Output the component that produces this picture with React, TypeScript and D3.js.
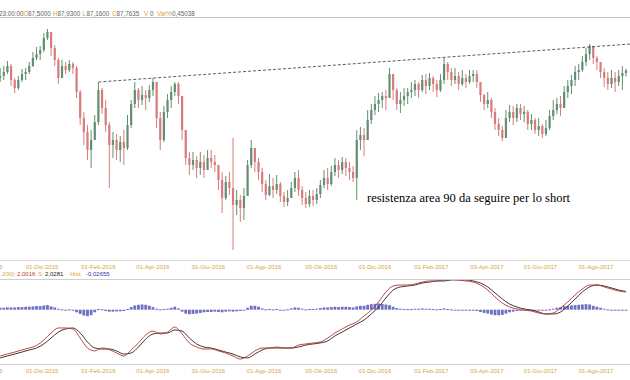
import React from 'react';
import * as d3 from 'd3';

const W = 630;
const H = 380;

// ---- price data (4-day bars starting 16 Oct 2015) ----
const barStart = new Date(2015, 9, 16);
const barStepDays = 4;
const firstOpen = 87.0;

const closes = [
  87.2, 87.6, 88.2, 86.8, 86.0, 86.8, 87.4, 87.6, 88.2, 89.0,
  89.4, 89.8, 91.0, 91.6, 90.0, 88.8, 87.0, 88.2, 87.8, 88.4,
  88.0, 85.6, 83.0, 81.6, 79.8, 80.8, 82.6, 85.8, 84.0, 82.3,
  80.3, 80.8, 79.8, 80.6, 80.0, 82.3, 84.4, 85.8, 84.8, 85.3,
  85.0, 85.8, 86.6, 83.0, 80.8, 83.6, 84.8, 85.6, 86.4, 85.2,
  81.8, 79.0, 78.3, 78.8, 78.0, 78.6, 77.8, 79.0, 78.6, 78.3,
  76.8, 75.0, 76.6, 76.0, 74.3, 74.8, 74.0, 75.2, 78.3, 80.0,
  78.6, 77.6, 76.4, 75.3, 76.2, 75.8, 76.4, 75.2, 74.6, 75.0,
  76.0, 77.0, 75.8, 75.0, 74.4, 75.2, 74.8, 75.4, 76.3, 77.0,
  76.4, 77.6, 78.3, 77.8, 78.6, 78.0, 77.6, 77.0, 80.8, 81.3,
  80.8, 82.8, 83.8, 84.4, 84.8, 85.2, 85.0, 87.4, 85.8, 84.4,
  84.8, 85.2, 85.6, 85.8, 86.4, 85.8, 86.8, 86.2, 87.0, 86.4,
  85.8, 86.8, 88.4, 87.6, 86.8, 87.2, 86.4, 87.0, 86.6, 87.2,
  87.4, 86.6, 85.3, 84.4, 84.8, 83.6, 82.4, 81.8, 81.0, 83.0,
  83.6, 83.0, 84.0, 83.4, 83.6, 82.4, 82.8, 81.8, 82.2, 81.4,
  82.0, 83.2, 83.8, 84.4, 84.0, 85.6, 86.2, 86.8, 87.6, 87.8,
  88.6, 89.4, 90.2, 89.0, 88.6, 87.6, 87.0, 86.4, 87.0, 86.6,
  87.2, 87.5, 87.7635,
];

const highs = [
  88.0, 88.2, 88.7, 88.4, 87.0, 87.2, 87.9, 88.0, 88.6, 89.6,
  90.1, 90.2, 91.5, 91.9, 91.2, 90.3, 89.0, 88.8, 88.6, 88.8,
  88.6, 88.2, 85.8, 83.6, 82.3, 81.8, 83.3, 86.6, 86.0, 84.8,
  82.6, 81.6, 81.4, 81.2, 81.8, 83.3, 84.8, 86.6, 86.0, 86.2,
  85.8, 86.3, 87.0, 86.4, 83.6, 84.2, 85.4, 86.2, 86.6, 86.6,
  85.2, 81.8, 79.6, 79.6, 79.2, 79.6, 79.3, 79.8, 79.8, 79.3,
  78.3, 77.6, 77.2, 77.6, 81.0, 75.8, 75.3, 76.0, 78.8, 80.8,
  79.8, 79.0, 78.0, 76.8, 77.4, 77.0, 77.3, 76.6, 75.6, 75.8,
  76.6, 77.6, 77.8, 76.2, 75.6, 75.8, 75.8, 76.0, 76.8, 77.8,
  78.0, 78.2, 79.0, 78.8, 79.1, 79.0, 78.6, 78.2, 81.8, 82.1,
  82.0, 83.8, 84.4, 85.2, 85.5, 85.6, 85.8, 88.0, 87.2, 86.0,
  85.6, 86.0, 86.0, 86.6, 86.8, 86.6, 87.3, 87.4, 87.5, 87.2,
  86.8, 87.4, 89.0, 88.6, 88.0, 88.0, 87.6, 87.8, 87.4, 87.8,
  87.8, 87.8, 86.6, 85.4, 85.6, 85.0, 84.0, 83.0, 82.2, 83.8,
  84.3, 84.2, 84.4, 84.4, 84.2, 83.8, 83.4, 83.0, 83.0, 82.4,
  82.8, 83.8, 84.8, 85.0, 85.2, 86.2, 86.8, 87.3, 88.2, 88.4,
  89.2, 90.0, 90.4, 90.0, 89.2, 88.6, 88.0, 87.6, 87.8, 87.6,
  87.8, 88.2, 87.93,
];

const lows = [
  86.6, 86.8, 87.4, 86.2, 85.5, 85.8, 86.6, 86.8, 87.4, 88.1,
  88.8, 88.8, 89.6, 90.8, 89.2, 88.2, 86.4, 87.2, 87.4, 87.6,
  87.4, 85.0, 82.3, 80.3, 78.8, 78.0, 81.0, 82.3, 83.4, 81.6,
  76.0, 79.0, 78.8, 78.6, 78.3, 79.8, 82.0, 84.0, 84.0, 84.3,
  83.8, 84.6, 85.2, 82.0, 79.8, 80.6, 83.0, 84.0, 85.2, 84.4,
  80.8, 78.3, 77.3, 77.8, 77.0, 77.3, 77.0, 77.8, 78.0, 77.6,
  75.8, 73.5, 74.8, 75.3, 69.8, 73.3, 72.6, 72.8, 75.3, 78.0,
  77.6, 76.8, 75.6, 74.8, 75.2, 75.0, 75.4, 74.6, 74.1, 74.2,
  75.0, 75.6, 75.2, 74.3, 74.0, 74.1, 74.2, 74.4, 75.0, 76.0,
  75.8, 76.2, 77.2, 77.0, 77.4, 77.2, 76.8, 76.6, 74.8, 79.8,
  79.2, 81.6, 82.4, 83.3, 83.6, 84.0, 83.8, 85.0, 84.8, 83.8,
  83.5, 84.2, 84.4, 85.0, 85.2, 85.0, 85.6, 85.4, 85.8, 85.6,
  85.1, 85.6, 86.4, 86.8, 86.2, 86.4, 85.8, 86.2, 86.0, 86.4,
  86.6, 86.0, 84.6, 83.8, 84.0, 83.0, 81.8, 81.2, 80.7, 81.4,
  82.6, 82.3, 82.6, 82.8, 82.6, 81.8, 81.8, 81.4, 81.2, 81.0,
  81.2, 81.8, 82.8, 83.4, 83.2, 84.2, 85.0, 85.4, 86.2, 86.8,
  87.6, 88.2, 88.8, 88.4, 87.8, 87.0, 86.1, 85.8, 86.0, 85.6,
  86.2, 85.8, 87.16,
];

// ---- MACD (one point every 2 bars) ----
const macdValues = [
  -2.57, -2.43, -2.29, -2.14, -2.0, -1.82, -1.43, -0.93, -0.57, -0.57,
  -0.64, -1.29, -2.0, -2.21, -2.0, -2.11, -2.36, -2.57, -2.14, -1.64,
  -1.07, -0.79, -1.0, -0.86, -0.5, -1.0, -1.64, -1.93, -2.07, -2.07,
  -2.21, -2.36, -2.57, -2.79, -2.57, -2.21, -2.0, -2.0, -1.93, -2.0,
  -2.0, -1.79, -1.71, -1.64, -1.57, -1.29, -0.93, -0.64, -0.36, -0.14,
  0.29, 0.71, 1.29, 2.0, 2.43, 2.5, 2.5, 2.57, 2.71, 2.79,
  2.79, 2.86, 2.93, 2.86, 2.79, 2.71, 2.5, 2.14, 1.64, 1.21,
  0.93, 0.79, 0.71, 0.64, 0.5, 0.43, 0.5, 0.86, 1.29, 1.79,
  2.21, 2.5, 2.5, 2.36, 2.21, 2.07, 2.0016,
];

const signalValues = [
  -2.71, -2.57, -2.43, -2.29, -2.14, -2.0, -1.71, -1.29, -0.86, -0.64,
  -0.57, -0.93, -1.57, -2.0, -2.07, -2.07, -2.21, -2.43, -2.36, -1.93,
  -1.36, -1.0, -0.93, -0.93, -0.71, -0.79, -1.29, -1.71, -1.93, -2.0,
  -2.14, -2.29, -2.43, -2.64, -2.71, -2.43, -2.14, -2.0, -2.0, -2.0,
  -2.0, -1.93, -1.79, -1.71, -1.64, -1.5, -1.14, -0.86, -0.57, -0.29,
  0.0, 0.43, 0.93, 1.57, 2.14, 2.36, 2.43, 2.5, 2.64, 2.71,
  2.79, 2.79, 2.86, 2.86, 2.86, 2.79, 2.64, 2.36, 1.93, 1.5,
  1.14, 0.93, 0.79, 0.71, 0.57, 0.43, 0.43, 0.57, 1.0, 1.5,
  2.0, 2.36, 2.5, 2.43, 2.29, 2.14, 2.0281,
];

const histValues = [
  0.06, 0.06, 0.07, 0.07, 0.07, 0.08, 0.08, 0.09, 0.09, 0.1,
  0.11, 0.11, 0.13, 0.14, 0.1, 0.07, 0.03, 0.01, -0.01, 0.01,
  -0.02, -0.08, -0.13, -0.18, -0.2, -0.17, -0.08, 0.02, 0.01, -0.04,
  -0.06, -0.06, -0.05, -0.05, -0.04, 0.02, 0.08, 0.13, 0.15, 0.16,
  0.15, 0.12, 0.08, 0.03, 0.01, 0.02, 0.03, 0.06, 0.09, 0.04,
  -0.06, -0.12, -0.14, -0.13, -0.12, -0.1, -0.08, -0.07, -0.07, -0.06,
  -0.07, -0.08, -0.06, -0.05, -0.06, -0.05, -0.04, -0.02, 0.06, 0.12,
  0.12, 0.09, 0.04, 0.01, 0.02, 0.01, 0.02, -0.01, -0.02, 0.01,
  0.04, 0.07, 0.06, 0.03, 0.01, 0.02, 0.02, 0.03, 0.05, 0.07,
  0.07, 0.08, 0.09, 0.08, 0.09, 0.09, 0.08, 0.07, 0.1, 0.12,
  0.12, 0.15, 0.17, 0.18, 0.19, 0.18, 0.16, 0.14, 0.09, 0.05,
  0.03, 0.02, 0.02, 0.02, 0.03, 0.03, 0.04, 0.03, 0.03, 0.02,
  0.01, 0.02, 0.04, 0.02, 0.01, -0.01, -0.02, -0.01, -0.01, -0.02,
  -0.02, -0.04, -0.07, -0.1, -0.12, -0.15, -0.17, -0.17, -0.16, -0.12,
  -0.08, -0.06, -0.04, -0.03, -0.02, -0.03, -0.02, -0.03, -0.02, -0.03,
  -0.01, 0.01, 0.03, 0.06, 0.08, 0.11, 0.12, 0.13, 0.14, 0.15,
  0.16, 0.17, 0.16, 0.12, 0.09, 0.06, 0.03, 0.01, -0.02, -0.03,
  -0.02, -0.02, -0.03,
];

// ---- axis ticks ----
const tickDates = [
  '2015-10-01', '2015-12-01', '2016-02-01', '2016-04-01', '2016-06-01', '2016-08-01',
  '2016-10-03', '2016-12-01', '2017-02-01', '2017-04-03', '2017-06-01', '2017-08-01',
];
const tickLabels = [
  '01-Ott-2015', '01-Dic-2015', '01-Feb-2016', '01-Apr-2016', '01-Giu-2016', '01-Ago-2016',
  '03-Ott-2016', '01-Dic-2016', '01-Feb-2017', '03-Apr-2017', '01-Giu-2017', '01-Ago-2017',
];

// ---- resistance trendline ----
const resistanceDates = ['2016-02-01', '2017-09-16'];
const resistancePrices = [86.6, 90.45];

const annotation = 'resistenza area 90 da seguire per lo short';

const parseDay = (s: string) => {
  const [y, m, d] = s.split('-').map(Number);
  return new Date(y, m - 1, d);
};

const SANS = 'Liberation Sans, Arial, sans-serif';
const ORANGE = '#d9a53e';
const BULL = '#628f72';
const BEAR = '#d97b7c';

export default function App() {
  const x = d3
    .scaleTime()
    .domain([new Date(2015, 11, 1), new Date(2017, 7, 1)])
    .range([42, 596]);
  const y = d3.scaleLinear().domain([68.75, 92.75]).range([260.5, 20.5]);
  const macdY = d3.scaleLinear().domain([-3.2, 2.9]).range([364.8, 279.4]);
  const histY = d3.scaleLinear().domain([-0.2, 0.2]).range([316.2, 303.2]);

  const dates = closes.map((_, i) => d3.timeDay.offset(barStart, i * barStepDays));
  const bars = closes.map((c, i) => {
    const o = i === 0 ? firstOpen : closes[i - 1];
    return {
      date: dates[i],
      o,
      c,
      h: Math.max(highs[i], o, c),
      l: Math.min(lows[i], o, c),
    };
  });

  const lineDates = macdValues.map((_, k) => dates[k * 2]);
  const macdPath = d3
    .line<number>()
    .x((_, k) => x(lineDates[k]))
    .y((v) => macdY(v))
    .curve(d3.curveMonotoneX);

  const bodyW = 2.2;
  const histW = 2.8;

  const rx0 = x(parseDay(resistanceDates[0]));
  const rx1 = x(parseDay(resistanceDates[1]));

  return (
    <svg
      width={W}
      height={H}
      viewBox={`0 0 ${W} ${H}`}
      style={{ position: 'absolute', left: 0, top: 0, background: '#fff' }}
    >
      <defs>
        <clipPath id="mainClip">
          <rect x={0} y={18} width={W} height={242} />
        </clipPath>
        <clipPath id="macdClip">
          <rect x={0} y={280} width={W} height={84} />
        </clipPath>
      </defs>
      <rect x={0} y={0} width={W} height={H} fill="#fff" />

      {/* header */}
      <g fontFamily={SANS} fontSize={6.3}>
        <text x={-1} y={15.5} fill="#666">23:00:00</text>
        <text x={23.5} y={15.5} fill={ORANGE}>O</text>
        <text x={28} y={15.5} fill="#666">87,5000</text>
        <text x={53} y={15.5} fill={ORANGE}>H</text>
        <text x={57.5} y={15.5} fill="#666">87,9300</text>
        <text x={82.5} y={15.5} fill={ORANGE}>L</text>
        <text x={86.5} y={15.5} fill="#666">87,1600</text>
        <text x={112} y={15.5} fill={ORANGE}>C</text>
        <text x={116.5} y={15.5} fill="#666">87,7635</text>
        <text x={144} y={15.5} fill={ORANGE}>V</text>
        <text x={150} y={15.5} fill="#666">0</text>
        <text x={157} y={15.5} fill={ORANGE}>Var%</text>
        <text x={172} y={15.5} fill="#666">0,45038</text>
      </g>
      <line x1={0} x2={W} y1={17.5} y2={17.5} stroke="#c4c4c4" strokeWidth={1} />

      {/* candles */}
      <g clipPath="url(#mainClip)">
        {bars.map((b, i) => {
          const cx = x(b.date);
          const col = b.c >= b.o ? BULL : BEAR;
          const top = y(Math.max(b.o, b.c));
          const bot = y(Math.min(b.o, b.c));
          return (
            <g key={i}>
              <line x1={cx} x2={cx} y1={y(b.h)} y2={y(b.l)} stroke={col} strokeWidth={1} />
              <rect
                x={cx - bodyW / 2}
                y={top}
                width={bodyW}
                height={Math.max(1, bot - top)}
                fill={col}
              />
            </g>
          );
        })}
        <line
          x1={rx0}
          y1={y(resistancePrices[0])}
          x2={rx1}
          y2={y(resistancePrices[1])}
          stroke="#333"
          strokeWidth={0.8}
          strokeDasharray="3,2"
        />
        <text
          x={367}
          y={202}
          fontFamily="Liberation Serif, Times New Roman, serif"
          fontSize={12.5}
          fill="#000"
        >
          {annotation}
        </text>
      </g>

      <line x1={0} x2={W} y1={260.5} y2={260.5} stroke="#dcdcdc" strokeWidth={1} />
      {/* middle date axis */}
      <g fontFamily={SANS} fontSize={6} fill={ORANGE} textAnchor="middle">
        {tickDates.map((d, i) => (
          <text key={i} x={x(parseDay(d))} y={268.5}>
            {tickLabels[i]}
          </text>
        ))}
      </g>

      {/* MACD header */}
      <g fontFamily={SANS} fontSize={6}>
        <text x={-1} y={276} fill={ORANGE}>, 200):</text>
        <text x={17} y={276} fill="#c0392b">2,0016</text>
        <text x={38} y={276} fill={ORANGE}>S:</text>
        <text x={45} y={276} fill="#222">2,0281</text>
        <text x={70} y={276} fill={ORANGE}>Hist:</text>
        <text x={86} y={276} fill="#3535a8">-0,02655</text>
      </g>
      <line x1={0} x2={W} y1={279.5} y2={279.5} stroke="#cfcfcf" strokeWidth={1} />

      {/* MACD pane */}
      <g clipPath="url(#macdClip)">
        {histValues.map((v, i) => {
          const cx = x(dates[i]);
          const y0 = histY(0);
          const y1 = histY(v);
          return (
            <rect
              key={i}
              x={cx - histW / 2}
              y={Math.min(y0, y1)}
              width={histW}
              height={Math.max(1, Math.abs(y1 - y0))}
              fill="#6f6fc4"
            />
          );
        })}
        <path d={macdPath(signalValues) || ''} fill="none" stroke="#222" strokeWidth={0.9} />
        <path d={macdPath(macdValues) || ''} fill="none" stroke="#b83232" strokeWidth={0.9} />
      </g>

      <line x1={0} x2={W} y1={364.5} y2={364.5} stroke="#cfcfcf" strokeWidth={1} />
      {/* bottom date axis */}
      <g fontFamily={SANS} fontSize={6} fill={ORANGE} textAnchor="middle">
        {tickDates.map((d, i) => (
          <text key={i} x={x(parseDay(d))} y={372.5}>
            {tickLabels[i]}
          </text>
        ))}
      </g>
    </svg>
  );
}
